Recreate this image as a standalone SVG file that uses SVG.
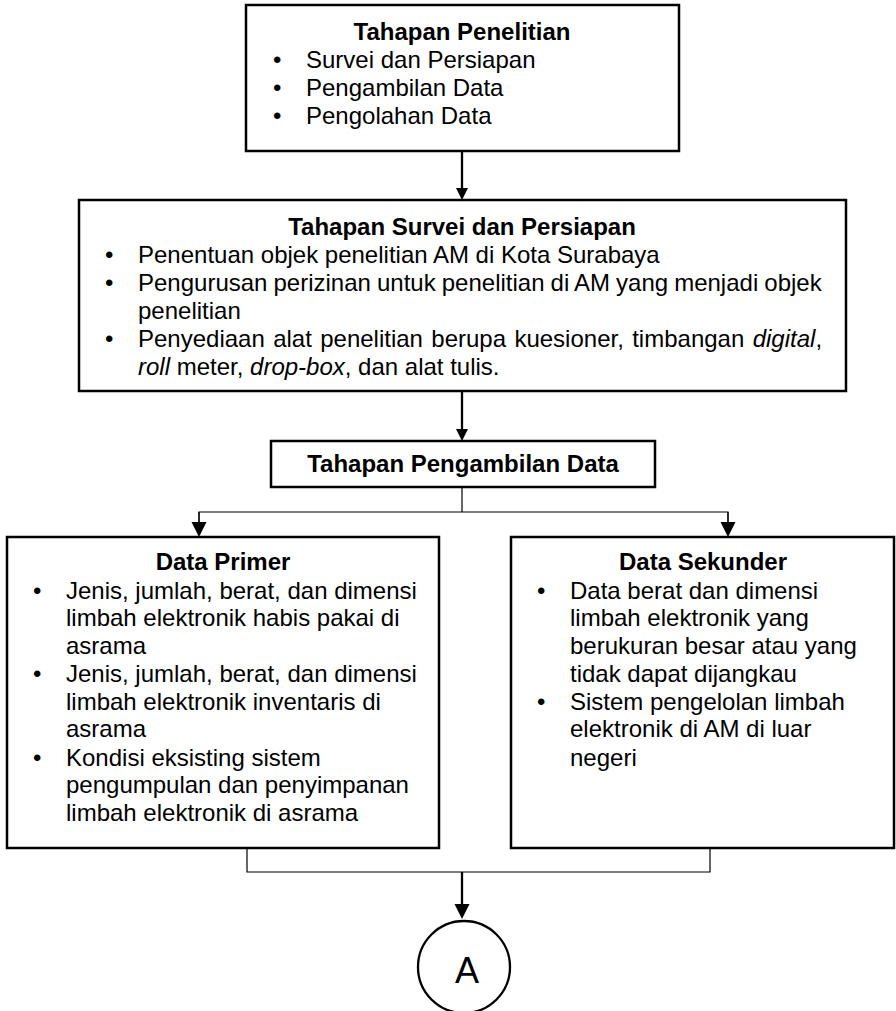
<svg xmlns="http://www.w3.org/2000/svg" width="896" height="1011" viewBox="0 0 896 1011">
  <style>
    .box { fill: #ffffff; stroke: #000000; stroke-width: 2.5; }
    .t { font-family: "Liberation Sans", Arial, Helvetica, sans-serif; font-size: 24px; fill: #000000; }
    .h { font-weight: bold; text-anchor: middle; }
    .i { font-style: italic; }
    .thick { fill: none; stroke: #000000; stroke-width: 2.3; }
    .thin { fill: none; stroke: #000000; stroke-width: 1.2; }
  </style>
  <defs>
    <marker id="arrowSmall" markerUnits="userSpaceOnUse" markerWidth="12" markerHeight="12" refX="0" refY="6" orient="auto">
      <path d="M0,0 L12,6 L0,12 Z" fill="#000000"/>
    </marker>
    <marker id="arrowBig" markerUnits="userSpaceOnUse" markerWidth="16" markerHeight="16" refX="0" refY="7.5" orient="auto">
      <path d="M0,0 L15,7.5 L0,15 Z" fill="#000000"/>
    </marker>
  </defs>

  <rect width="896" height="1011" fill="#ffffff"/>

  <!-- connectors -->
  <g id="connectors">
    <line class="thick" x1="462" y1="151" x2="462" y2="188" marker-end="url(#arrowSmall)"/>
    <line class="thick" x1="462" y1="391" x2="462" y2="429" marker-end="url(#arrowSmall)"/>
    <polyline class="thin" points="462,487 462,512"/>
    <polyline class="thin" points="199,522 199,512 728,512 728,522"/>
    <line class="thin" x1="199" y1="512" x2="199" y2="522" marker-end="url(#arrowBig)"/>
    <line class="thin" x1="728" y1="512" x2="728" y2="522" marker-end="url(#arrowBig)"/>
    <polyline class="thin" points="247,848 247,872 710,872 710,848"/>
    <line class="thick" x1="462" y1="872" x2="462" y2="904" marker-end="url(#arrowBig)"/>
  </g>

  <!-- research stages -->
  <g id="node-tahapan-penelitian">
    <rect class="box" x="246" y="5" width="433" height="146"/>
    <text class="t h" x="462" y="40">Tahapan Penelitian</text>
    <text class="t" x="273" y="68">•</text>
    <text class="t" x="306" y="68">Survei dan Persiapan</text>
    <text class="t" x="273" y="96">•</text>
    <text class="t" x="306" y="96">Pengambilan Data</text>
    <text class="t" x="273" y="124">•</text>
    <text class="t" x="306" y="124">Pengolahan Data</text>
  </g>

  <!-- survey and preparation -->
  <g id="node-survei-persiapan">
    <rect class="box" x="79" y="200" width="767" height="191"/>
    <text class="t h" x="462" y="235">Tahapan Survei dan Persiapan</text>
    <text class="t" x="105" y="263">•</text>
    <text class="t" x="138" y="263">Penentuan objek penelitian AM di Kota Surabaya</text>
    <text class="t" x="105" y="291">•</text>
    <text class="t" x="138" y="291" word-spacing="-0.6">Pengurusan perizinan untuk penelitian di AM yang menjadi objek</text>
    <text class="t" x="138" y="319">penelitian</text>
    <text class="t" x="105" y="347">•</text>
    <text class="t" x="138" y="347" word-spacing="1.7">Penyediaan alat penelitian berupa kuesioner, timbangan <tspan class="i">digital</tspan>,</text>
    <text class="t" x="138" y="375"><tspan class="i">roll</tspan> meter, <tspan class="i">drop-box</tspan>, dan alat tulis.</text>
  </g>

  <!-- data collection -->
  <g id="node-pengambilan-data">
    <rect class="box" x="271" y="441" width="384" height="46"/>
    <text class="t h" x="463" y="472">Tahapan Pengambilan Data</text>
  </g>

  <!-- primary data -->
  <g id="node-data-primer">
    <rect class="box" x="7" y="537" width="432" height="311"/>
    <text class="t h" x="223" y="570">Data Primer</text>
    <text class="t" x="33" y="599">•</text>
    <text class="t" x="66" y="599">Jenis, jumlah, berat, dan dimensi</text>
    <text class="t" x="66" y="626">limbah elektronik habis pakai di</text>
    <text class="t" x="66" y="654">asrama</text>
    <text class="t" x="33" y="682">•</text>
    <text class="t" x="66" y="682">Jenis, jumlah, berat, dan dimensi</text>
    <text class="t" x="66" y="710">limbah elektronik inventaris di</text>
    <text class="t" x="66" y="737">asrama</text>
    <text class="t" x="33" y="766">•</text>
    <text class="t" x="66" y="766">Kondisi eksisting sistem</text>
    <text class="t" x="66" y="793">pengumpulan dan penyimpanan</text>
    <text class="t" x="66" y="821">limbah elektronik di asrama</text>
  </g>

  <!-- secondary data -->
  <g id="node-data-sekunder">
    <rect class="box" x="511" y="537" width="383" height="311"/>
    <text class="t h" x="703" y="570">Data Sekunder</text>
    <text class="t" x="537" y="599">•</text>
    <text class="t" x="570" y="599">Data berat dan dimensi</text>
    <text class="t" x="570" y="626">limbah elektronik yang</text>
    <text class="t" x="570" y="654">berukuran besar atau yang</text>
    <text class="t" x="570" y="682">tidak dapat dijangkau</text>
    <text class="t" x="537" y="710">•</text>
    <text class="t" x="570" y="710">Sistem pengelolan limbah</text>
    <text class="t" x="570" y="737">elektronik di AM di luar</text>
    <text class="t" x="570" y="766">negeri</text>
  </g>

  <!-- off-page connector -->
  <g id="node-a">
    <circle cx="464" cy="967" r="46" fill="#ffffff" stroke="#000000" stroke-width="2.3"/>
    <text x="467" y="983" text-anchor="middle" font-family="Liberation Sans, Arial, sans-serif" font-size="36">A</text>
  </g>
</svg>
